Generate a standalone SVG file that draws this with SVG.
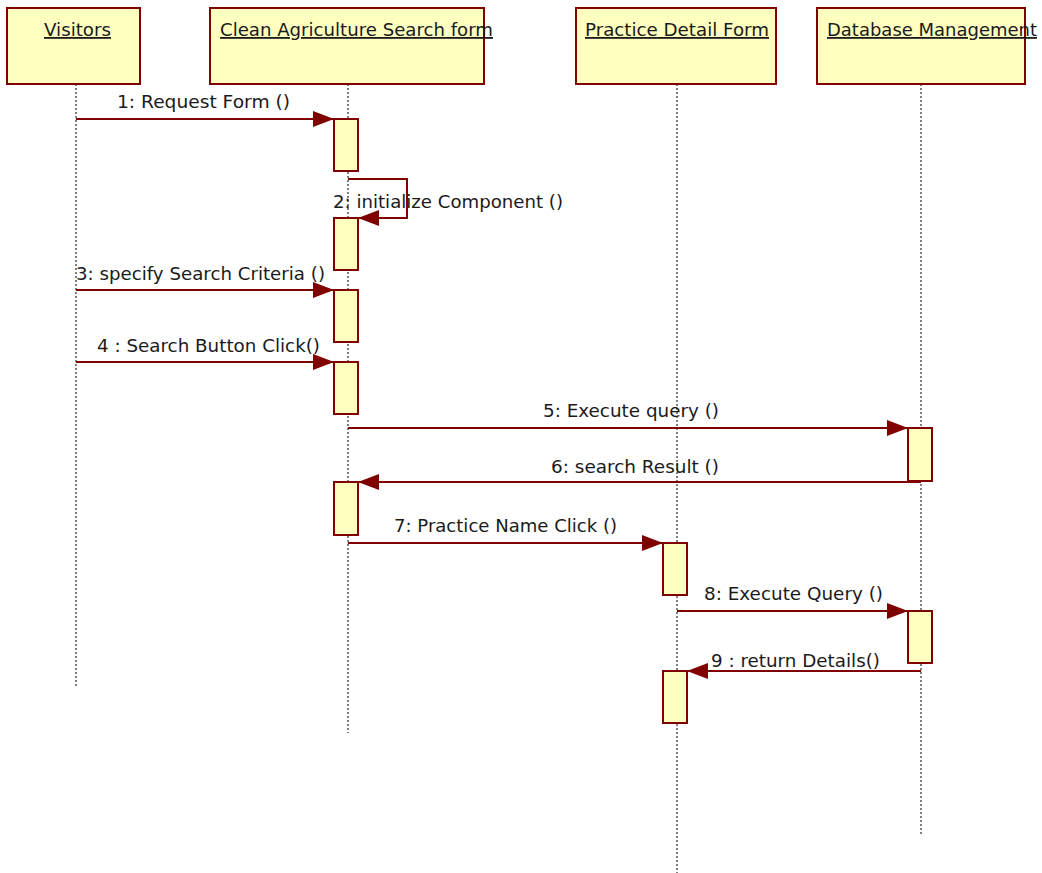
<svg xmlns="http://www.w3.org/2000/svg" width="1042" height="873" viewBox="0 0 1042 873">
<defs>
<style>
.obj{fill:#FFFFC0;stroke:#800000;stroke-width:2}
.act{fill:#FFFFC0;stroke:#800000;stroke-width:2}
.life{stroke:#000;stroke-width:1;stroke-dasharray:2,2;fill:none}
.msg{stroke:#800000;stroke-width:2;fill:none;marker-end:url(#arr)}
.t{font-family:"DejaVu Sans","Liberation Sans",sans-serif;font-size:18px;fill:#1a1a1a}
.h{text-decoration:underline}
</style>
<marker id="arr" markerUnits="userSpaceOnUse" markerWidth="22" markerHeight="16" refX="21" refY="8" orient="auto" viewBox="0 0 22 16">
<path d="M0,0 L21,8 L0,16 z" fill="#800000"/>
</marker>
</defs>
<rect width="1042" height="873" fill="#fff"/>
<g id="lifelines">
<line class="life" x1="76" y1="84" x2="76" y2="686"/>
<line class="life" x1="348" y1="84" x2="348" y2="733"/>
<line class="life" x1="677" y1="84" x2="677" y2="873"/>
<line class="life" x1="921" y1="84" x2="921" y2="834"/>
</g>
<g id="visitors">
<rect class="obj" x="7" y="8" width="133" height="76"/>
<text class="t h" x="44" y="36" textLength="67" lengthAdjust="spacingAndGlyphs">Visitors</text>
</g>
<g id="search-form">
<rect class="obj" x="210" y="8" width="274" height="76"/>
<text class="t h" x="220" y="36" textLength="273" lengthAdjust="spacingAndGlyphs">Clean Agriculture Search form</text>
</g>
<g id="practice-detail">
<rect class="obj" x="576" y="8" width="200" height="76"/>
<text class="t h" x="585" y="36" textLength="184" lengthAdjust="spacingAndGlyphs">Practice Detail Form</text>
</g>
<g id="database">
<rect class="obj" x="817" y="8" width="208" height="76"/>
<text class="t h" x="827" y="36" textLength="210" lengthAdjust="spacingAndGlyphs">Database Management</text>
</g>
<g id="activations">
<rect class="act" x="334" y="119" width="24" height="52"/>
<rect class="act" x="334" y="218" width="24" height="52"/>
<rect class="act" x="334" y="290" width="24" height="52"/>
<rect class="act" x="334" y="362" width="24" height="52"/>
<rect class="act" x="908" y="428" width="24" height="53"/>
<rect class="act" x="334" y="482" width="24" height="53"/>
<rect class="act" x="663" y="543" width="24" height="52"/>
<rect class="act" x="908" y="611" width="24" height="52"/>
<rect class="act" x="663" y="671" width="24" height="52"/>
</g>
<g id="connectors">
<line class="msg" x1="76" y1="119" x2="334" y2="119"/>
<polyline class="msg" points="348,179 407,179 407,218 358,218"/>
<line class="msg" x1="76" y1="290" x2="334" y2="290"/>
<line class="msg" x1="76" y1="362" x2="334" y2="362"/>
<line class="msg" x1="348" y1="428" x2="908" y2="428"/>
<line class="msg" x1="921" y1="482" x2="358" y2="482"/>
<line class="msg" x1="348" y1="543" x2="663" y2="543"/>
<line class="msg" x1="677" y1="611" x2="908" y2="611"/>
<line class="msg" x1="921" y1="671" x2="687" y2="671"/>
</g>
<g id="labels">
<text class="t" x="117" y="108" textLength="173" lengthAdjust="spacingAndGlyphs">1: Request Form ()</text>
<text class="t" x="333" y="208" textLength="230" lengthAdjust="spacingAndGlyphs">2: initialize Component ()</text>
<text class="t" x="76" y="280" textLength="249" lengthAdjust="spacingAndGlyphs">3: specify Search Criteria ()</text>
<text class="t" x="97" y="352" textLength="223" lengthAdjust="spacingAndGlyphs">4 : Search Button Click()</text>
<text class="t" x="543" y="417" textLength="176" lengthAdjust="spacingAndGlyphs">5: Execute query ()</text>
<text class="t" x="551" y="473" textLength="168" lengthAdjust="spacingAndGlyphs">6: search Result ()</text>
<text class="t" x="394" y="532" textLength="223" lengthAdjust="spacingAndGlyphs">7: Practice Name Click ()</text>
<text class="t" x="704" y="600" textLength="179" lengthAdjust="spacingAndGlyphs">8: Execute Query ()</text>
<text class="t" x="711" y="667" textLength="169" lengthAdjust="spacingAndGlyphs">9 : return Details()</text>
</g>
</svg>
